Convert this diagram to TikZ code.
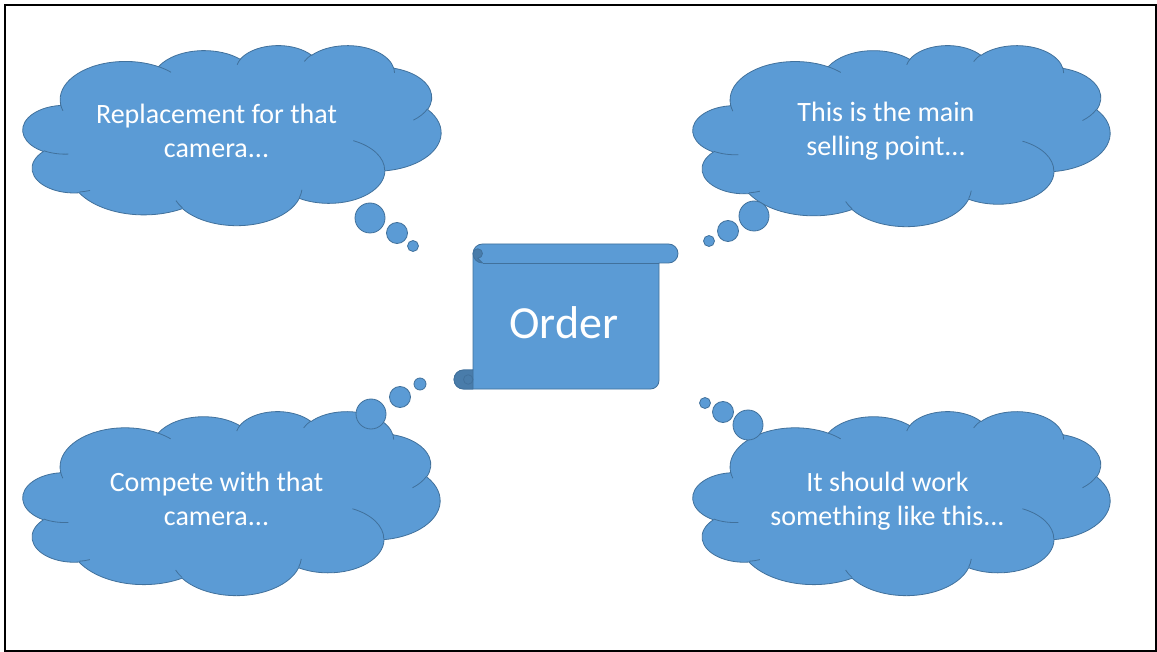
\documentclass[tikz,border=0pt]{standalone}
\usepackage{fontspec}
\setmainfont{Carlito}
\definecolor{cfill}{HTML}{5B9BD5}
\definecolor{cline}{HTML}{41719C}
\definecolor{cdark}{HTML}{497CAA}
% DrawingML arcTo: wR hR stAng swAng (visual angles, degrees)
\newcommand\ooarc[4]{arc[x radius=#1, y radius=#2,
  start angle={atan2((#1)*sin(#3),(#2)*cos(#3))},
  delta angle={mod(atan2((#1)*sin((#3)+(#4)),(#2)*cos((#3)+(#4)))-atan2((#1)*sin(#3),(#2)*cos(#3))+720,360)}]}
\newcommand\cloudouter{(390,1437)
  \ooarc{675.3}{919.0}{-190.48748}{123.78053}
  \ooarc{533.3}{726.7}{-144.10238}{89.94523}
  \ooarc{436.5}{594.5}{-145.80792}{99.72302}
  \ooarc{485.7}{659.5}{-130.98607}{117.24173}
  \ooarc{533.3}{727.3}{-78.70888}{109.02692}
  \ooarc{677.5}{922.0}{-46.26725}{130.269}
  \ooarc{578.5}{786.7}{0.62502}{114.03333}
  \ooarc{675.2}{921.5}{22.4516}{115.17255}
  \ooarc{772.0}{1054.3}{66.24263}{75.71102}
  \ooarc{436.0}{591.8}{-274.94208}{146.73557}
  \ooarc{434.5}{594.5}{-246.8285}{152.51885}
  -- cycle}
\newcommand\cloudinner{
  (469.3,2617.7) \ooarc{434.5}{594.5}{86.742}{26.4295}
  (692.8,3489.9) \ooarc{436.0}{591.8}{73.61047}{11.44747}
  (1647.8,3909.0) \ooarc{675.2}{921.5}{137.62415}{14.0811}
  (2882.7,3475.1) \ooarc{675.2}{921.5}{6.45327}{15.99835}
  (3412.9,2295.4) \ooarc{578.5}{786.7}{-70.29235}{70.91737}
  (4179.8,1535.4) \ooarc{533.3}{727.3}{30.31803}{27.7515}
  (3832.4,542.6) \ooarc{485.7}{659.5}{-13.74433}{14.8589}
  (2907.8,395.2) \ooarc{485.7}{659.5}{-149.18145}{18.19537}
  (2214.1,472.0) \ooarc{436.5}{594.5}{-163.49427}{17.68635}
  (1400.0,519.2) \ooarc{675.3}{919.0}{-66.70695}{12.31935}
  (412.7,1578.9) \ooarc{675.3}{919.0}{157.65435}{11.85817}}
\newcommand\cloudat[4]{%
  \begin{scope}[shift={(#1,#2)}, x=#3pt, y=-#4pt]
    \filldraw[shapeline, fill=cfill] \cloudouter;
    \draw[shapeline] \cloudinner;
  \end{scope}}
\tikzset{
  shapeline/.style={draw=cline, line width=0.8pt, line join=round},
  bubble/.style={circle, shapeline, fill=cfill, inner sep=0pt},
  cloudtext/.style={anchor=base, inner sep=0pt, text=white, font=\fontsize{28}{34}\selectfont},
}
\begin{document}
\begin{tikzpicture}[x=1pt,y=-1pt]
\useasboundingbox (0,0) rectangle (1157,652);
\fill[white] (0,0) rectangle (1157,652);
\draw[line width=2pt] (5,5) rectangle (1156,651);

% clouds
\cloudat{23}{45}{0.09676}{0.041667}
\cloudat{693}{45}{0.09653}{0.041898}
\cloudat{23}{411}{0.09653}{0.042593}
\cloudat{693}{411}{0.09653}{0.042593}

% thought bubbles
\node[bubble, minimum size=30pt] (tl1) at (370,218) {};
\node[bubble, minimum size=21pt] (tl2) at (397,233) {};
\node[bubble, minimum size=11pt] (tl3) at (413,246) {};
\node[bubble, minimum size=30pt] (tr1) at (754,216) {};
\node[bubble, minimum size=21pt] (tr2) at (728,231) {};
\node[bubble, minimum size=11pt] (tr3) at (709,241) {};
\node[bubble, minimum size=30pt] (bl1) at (371,414) {};
\node[bubble, minimum size=21pt] (bl2) at (400,397) {};
\node[bubble, minimum size=12pt] (bl3) at (420,384) {};
\node[bubble, minimum size=30pt] (br1) at (748,425) {};
\node[bubble, minimum size=21pt] (br2) at (723,412) {};
\node[bubble, minimum size=11pt] (br3) at (705,403) {};

% scroll
\filldraw[shapeline, fill=cfill] (473,253.5) arc[start angle=180, end angle=270, radius=9.5]
  -- (668.5,244) arc[start angle=270, end angle=450, radius=9.5]
  -- (659,263) -- (659,380.5) arc[start angle=0, end angle=90, radius=8.5]
  -- (463.5,389) arc[start angle=90, end angle=270, radius=9.5]
  -- (473,370) -- cycle;
\draw[shapeline] (482.5,263) -- (659,263);
\filldraw[shapeline, fill=cdark] (482.5,263) arc[start angle=90, end angle=180, radius=9.5]
  arc[start angle=180, end angle=360, radius=4.75]
  arc[start angle=0, end angle=90, radius=4.75] -- cycle;
\filldraw[shapeline, fill=cdark] (473,370) -- (463.5,370) arc[start angle=270, end angle=90, radius=9.5]
  -- (473,389) -- cycle;
\draw[shapeline] (468.25,379.5) circle[radius=4.75];

% texts
\node[anchor=base, inner sep=0pt, text=white, font=\fontsize{46}{55}\selectfont] (order) at (564,339) {Order};
\node[cloudtext] (t1) at (216.5,124) {\begin{tabular}[t]{@{}c@{}}Replacement for that\\camera...\end{tabular}};
\node[cloudtext] (t2) at (886,122) {\begin{tabular}[t]{@{}c@{}}This is the main\\selling point...\end{tabular}};
\node[cloudtext] (t3) at (216.5,491) {\begin{tabular}[t]{@{}c@{}}Compete with that\\camera...\end{tabular}};
\node[cloudtext] (t4) at (887.5,491) {\begin{tabular}[t]{@{}c@{}}It should work\\something like this...\end{tabular}};
\end{tikzpicture}
\end{document}
